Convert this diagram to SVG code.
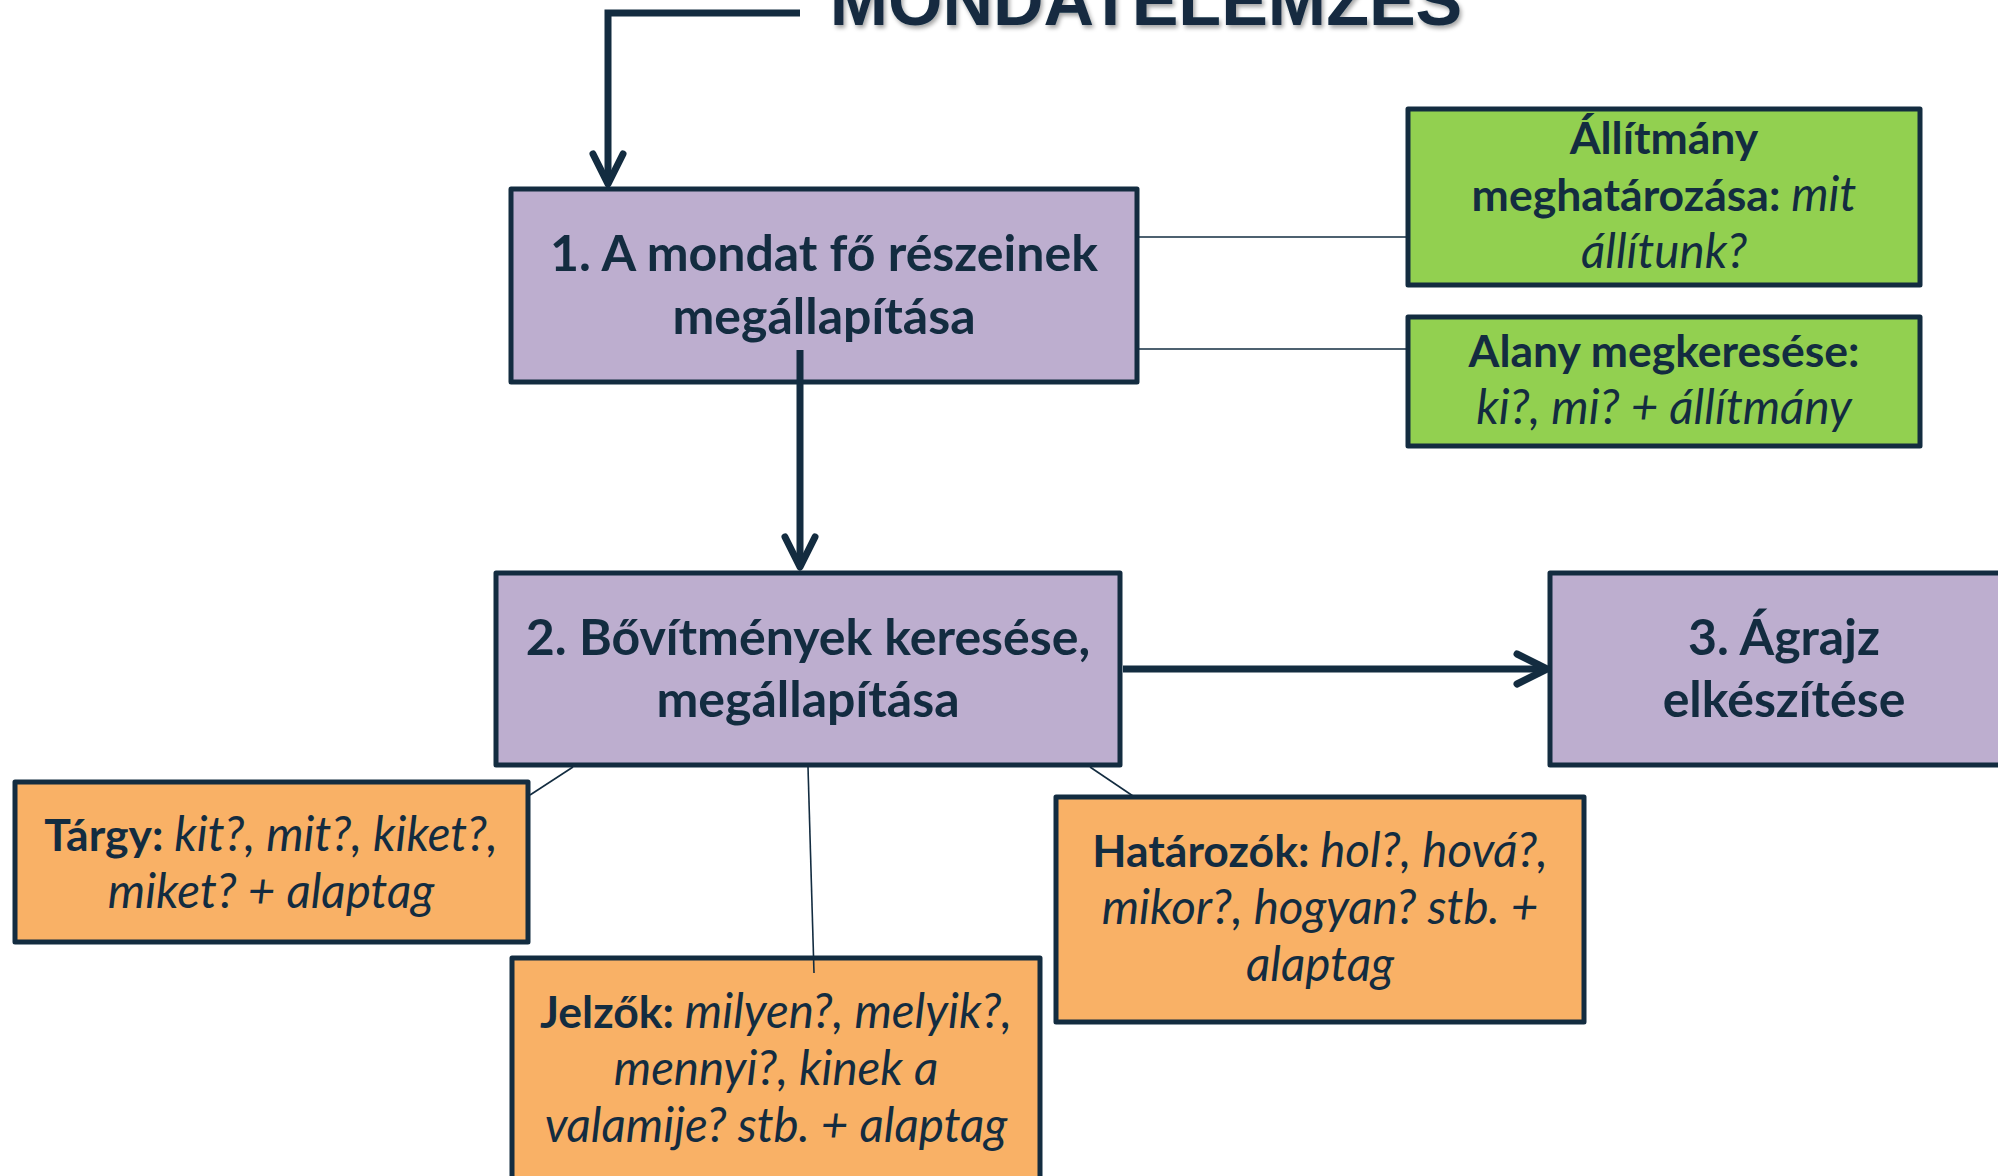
<svg xmlns="http://www.w3.org/2000/svg" width="1998" height="1176" viewBox="0 0 1998 1176">
<style>
.box{stroke:#132c40;stroke-width:5;stroke-linejoin:round}
.purple{fill:#bdaecf}
.green{fill:#92d050}
.orange{fill:#f9b166}
.t{font-family:Lato,"Open Sans","Liberation Sans",sans-serif;fill:#132c40;text-anchor:middle}
.big{font-size:50px;font-weight:bold}
.sm{font-size:44.5px}
.b{font-weight:bold}
.i{font-style:italic;font-size:47.5px}
.thick{stroke:#132c40;stroke-width:7;fill:none}
.thin{stroke:#132c40;stroke-width:1.6;fill:none}
</style>
<defs>
<marker id="chev" markerUnits="userSpaceOnUse" viewBox="-40 -22 46 44" markerWidth="46" markerHeight="44" refX="0" refY="0" orient="auto">
<path d="M-30,-15 L0,0 L-30,15" fill="none" stroke="#132c40" stroke-width="7" stroke-linecap="round" stroke-linejoin="round"/>
</marker>
<filter id="sh" x="-5%" y="-50%" width="110%" height="200%">
<feDropShadow dx="2" dy="3" stdDeviation="2" flood-color="#000" flood-opacity="0.35"/>
</filter>
</defs>

<g id="title">
<text x="1146" y="25" font-family="'Liberation Sans',Arial,sans-serif" font-weight="bold" font-size="70" fill="#132c40" text-anchor="middle" filter="url(#sh)">MONDATELEMZÉS</text>
</g>

<g id="node1">
<rect class="box purple" x="511" y="189" width="626" height="193"/>
<text class="t big" x="824" y="271">1. A mondat fő részeinek</text>
<text class="t big" x="824" y="334">megállapítása</text>
</g>

<g id="node-allitmany">
<rect class="box green" x="1408" y="109" width="512" height="176"/>
<text class="t sm" x="1664" y="154"><tspan class="b">Állítmány</tspan></text>
<text class="t sm" x="1664" y="211"><tspan class="b">meghatározása: </tspan><tspan class="i">mit</tspan></text>
<text class="t sm i" x="1664" y="268">állítunk?</text>
</g>

<g id="node-alany">
<rect class="box green" x="1408" y="317" width="512" height="129"/>
<text class="t sm b" x="1664" y="367">Alany megkeresése:</text>
<text class="t sm i" x="1664" y="424">ki?, mi? + állítmány</text>
</g>

<g id="node2">
<rect class="box purple" x="496" y="573" width="624" height="192"/>
<text class="t big" x="808" y="655">2. Bővítmények keresése,</text>
<text class="t big" x="808" y="717">megállapítása</text>
</g>

<g id="node3">
<rect class="box purple" x="1550" y="573" width="470" height="192"/>
<text class="t big" x="1784" y="655">3. Ágrajz</text>
<text class="t big" x="1784" y="717">elkészítése</text>
</g>

<g id="node-targy">
<rect class="box orange" x="15" y="782" width="513" height="160"/>
<text class="t sm" x="271" y="851"><tspan class="b">Tárgy: </tspan><tspan class="i">kit?, mit?, kiket?,</tspan></text>
<text class="t sm i" x="271" y="908">miket? + alaptag</text>
</g>

<g id="node-jelzok">
<rect class="box orange" x="512" y="958" width="528" height="240"/>
<text class="t sm" x="776" y="1028"><tspan class="b">Jelzők: </tspan><tspan class="i">milyen?, melyik?,</tspan></text>
<text class="t sm i" x="776" y="1085">mennyi?, kinek a</text>
<text class="t sm i" x="776" y="1142">valamije? stb. + alaptag</text>
</g>

<g id="node-hatarozok">
<rect class="box orange" x="1056" y="797" width="528" height="225"/>
<text class="t sm" x="1320" y="867"><tspan class="b">Határozók: </tspan><tspan class="i">hol?, hová?,</tspan></text>
<text class="t sm i" x="1320" y="924">mikor?, hogyan? stb. +</text>
<text class="t sm i" x="1320" y="981">alaptag</text>
</g>

<g id="connectors">
<path class="thick" d="M800,13 L608,13 L608,184" marker-end="url(#chev)"/>
<path class="thick" d="M800,350 L800,567" marker-end="url(#chev)"/>
<path class="thick" d="M1123,669 L1547,669" marker-end="url(#chev)"/>
<path class="thin" d="M1139,237 L1406,237"/>
<path class="thin" d="M1139,349 L1406,349"/>
<path class="thin" d="M573,767 L530,795"/>
<path class="thin" d="M808,767 L814,973"/>
<path class="thin" d="M1090,767 L1133,796"/>
</g>
</svg>
